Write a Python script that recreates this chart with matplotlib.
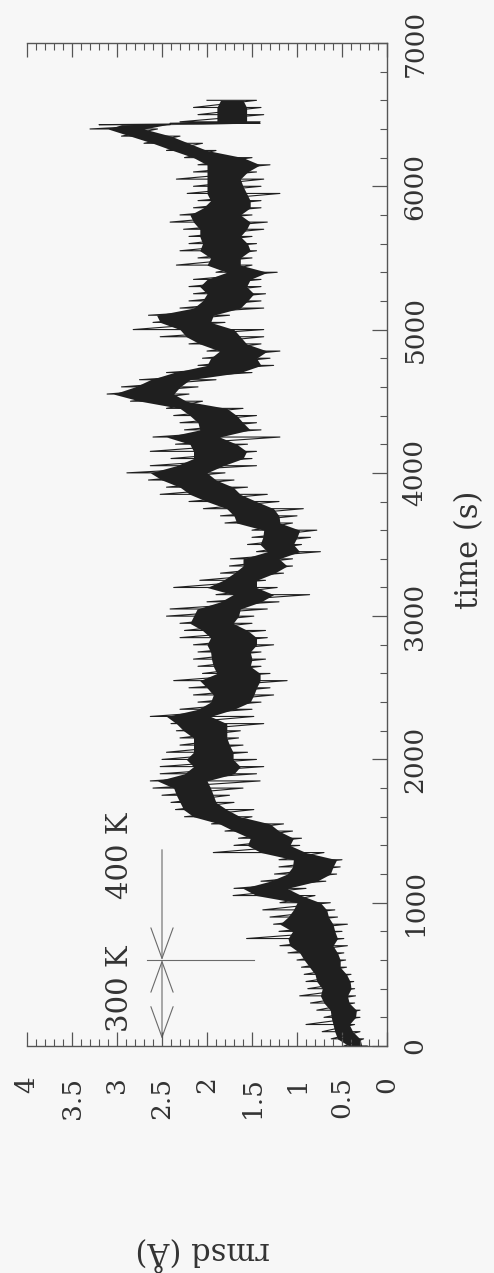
import numpy as np
import matplotlib
matplotlib.use("Agg")
import matplotlib.pyplot as plt
from matplotlib.ticker import MultipleLocator, FuncFormatter
from matplotlib.patches import FancyArrowPatch

# ---------------- data ----------------
time_s = [0, 50, 100, 150, 200, 250, 300, 350, 400, 450, 500, 550, 600, 650, 700,
          750, 800, 850, 900, 950, 1000, 1050, 1100, 1150, 1200, 1250, 1300, 1350,
          1400, 1450, 1500, 1550, 1600, 1650, 1700, 1750, 1800, 1850, 1900, 1950,
          2000, 2050, 2100, 2150, 2200, 2250, 2300, 2350, 2400, 2450, 2500, 2550,
          2600, 2650, 2700, 2750, 2800, 2850, 2900, 2950, 3000, 3050, 3100, 3150,
          3200, 3250, 3300, 3350, 3400, 3450, 3500, 3550, 3600, 3650, 3700, 3750,
          3800, 3850, 3900, 3950, 4000, 4050, 4100, 4150, 4200, 4250, 4300, 4350,
          4400, 4450, 4500, 4550, 4600, 4650, 4700, 4750, 4800, 4850, 4900, 4950,
          5000, 5050, 5100, 5150, 5200, 5250, 5300, 5350, 5400, 5450, 5500, 5550,
          5600, 5650, 5700, 5750, 5800, 5850, 5900, 5950, 6000, 6050, 6100, 6150,
          6200, 6250, 6300, 6350, 6400, 6430, 6440, 6450, 6500, 6550, 6600]

core_lo = [0.28, 0.30, 0.38, 0.42, 0.35, 0.34, 0.42, 0.44, 0.40, 0.41, 0.45, 0.52, 0.52, 0.55, 0.60,
           0.55, 0.58, 0.60, 0.65, 0.67, 0.74, 0.95, 1.11, 0.78, 0.63, 0.60, 0.56, 0.90,
           1.08, 1.04, 1.20, 1.30, 1.63, 1.78, 1.90, 1.93, 1.96, 2.00, 1.70, 1.63,
           1.71, 1.71, 1.75, 1.78, 1.78, 1.78, 1.96, 1.70, 1.52, 1.48, 1.45, 1.41,
           1.41, 1.52, 1.50, 1.52, 1.45, 1.45, 1.55, 1.71, 1.65, 1.63, 1.40, 1.26,
           1.45, 1.45, 1.25, 1.11, 1.20, 0.97, 1.04, 1.00, 0.97, 1.19, 1.20, 1.26,
           1.45, 1.63, 1.71, 1.90, 2.00, 1.82, 1.60, 1.56, 1.67, 1.86, 1.52, 1.60,
           1.67, 1.78, 2.23, 2.37, 2.30, 2.19, 1.63, 1.40, 1.45, 1.33, 1.56, 1.63,
           1.70, 1.96, 1.93, 1.63, 1.55, 1.48, 1.56, 1.52, 1.33, 1.63, 1.63, 1.52,
           1.55, 1.63, 1.56, 1.52, 1.63, 1.52, 1.52, 1.56, 1.60, 1.63, 1.55, 1.41,
           1.60, 2.00, 2.20, 2.40, 2.70, 2.45, 1.55, 1.56, 1.56, 1.56, 1.60]

core_hi = [0.42, 0.55, 0.58, 0.60, 0.62, 0.63, 0.70, 0.74, 0.72, 0.78, 0.80, 0.86, 0.92, 0.97, 1.08,
           1.10, 1.05, 1.19, 1.10, 1.04, 1.00, 1.45, 1.60, 1.30, 1.11, 1.05, 1.04, 1.40,
           1.55, 1.52, 1.70, 1.86, 2.15, 2.26, 2.30, 2.34, 2.37, 2.55, 2.25, 2.15,
           2.23, 2.15, 2.15, 2.15, 2.26, 2.34, 2.45, 2.10, 1.96, 1.93, 2.00, 2.08,
           1.89, 1.93, 1.95, 1.96, 2.00, 1.96, 2.05, 2.19, 2.15, 2.11, 1.85, 1.71,
           2.00, 1.82, 1.70, 1.60, 1.60, 1.33, 1.41, 1.38, 1.37, 1.67, 1.70, 1.78,
           2.00, 2.19, 2.30, 2.50, 2.63, 2.34, 2.15, 2.15, 2.19, 2.45, 2.08, 2.10,
           2.19, 2.30, 2.74, 3.04, 2.80, 2.63, 2.37, 2.00, 1.96, 1.86, 2.08, 2.23,
           2.30, 2.52, 2.56, 2.15, 2.05, 2.00, 2.08, 2.00, 1.78, 2.00, 1.96, 2.08,
           2.05, 2.08, 2.08, 2.15, 2.19, 2.04, 1.96, 2.00, 2.00, 2.00, 2.00, 2.00,
           2.15, 2.38, 2.60, 2.85, 3.10, 2.95, 1.85, 1.89, 1.89, 1.89, 1.85]

spike_lo = [0.22, 0.26, 0.30, 0.36, 0.30, 0.30, 0.36, 0.35, 0.36, 0.37, 0.40, 0.45, 0.46, 0.48, 0.44,
            0.48, 0.50, 0.44, 0.55, 0.58, 0.63, 0.80, 0.90, 0.68, 0.56, 0.52, 0.50, 0.70,
            0.97, 0.95, 1.05, 1.15, 1.50, 1.48, 1.70, 1.75, 1.60, 1.41, 1.45, 1.37,
            1.45, 1.55, 1.60, 1.65, 1.63, 1.37, 1.48, 1.50, 1.40, 1.26, 1.30, 1.11,
            1.30, 1.40, 1.35, 1.40, 1.26, 1.33, 1.35, 1.50, 1.48, 1.33, 1.20, 0.86,
            1.22, 1.35, 1.15, 1.05, 1.05, 0.74, 0.95, 0.85, 0.78, 1.05, 1.00, 0.93,
            1.20, 1.33, 1.55, 1.70, 1.80, 1.45, 1.50, 1.45, 1.55, 1.19, 1.40, 1.45,
            1.45, 1.60, 2.05, 2.20, 2.10, 1.90, 1.50, 1.26, 1.30, 1.19, 1.40, 1.37,
            1.37, 1.80, 1.75, 1.37, 1.40, 1.35, 1.40, 1.40, 1.22, 1.50, 1.50, 1.45,
            1.45, 1.50, 1.37, 1.33, 1.50, 1.40, 1.40, 1.19, 1.40, 1.37, 1.45, 1.30,
            1.50, 1.90, 2.05, 2.30, 2.55, 2.41, 1.41, 1.41, 1.37, 1.40, 1.45]

spike_hi = [0.48, 0.62, 0.72, 0.90, 0.70, 0.78, 0.85, 0.97, 0.88, 0.90, 0.92, 0.95, 1.00, 1.10, 1.19,
            1.56, 1.20, 1.26, 1.30, 1.38, 1.19, 1.71, 1.70, 1.40, 1.25, 1.20, 1.20, 1.93,
            1.70, 1.65, 1.80, 1.95, 2.25, 2.35, 2.40, 2.50, 2.60, 2.63, 2.52, 2.52,
            2.50, 2.45, 2.30, 2.30, 2.34, 2.40, 2.63, 2.30, 2.10, 2.15, 2.20, 2.37,
            2.05, 2.10, 2.15, 2.10, 2.15, 2.30, 2.25, 2.30, 2.45, 2.41, 2.00, 1.90,
            2.37, 2.08, 1.85, 1.75, 1.74, 1.45, 1.55, 1.50, 1.50, 1.80, 1.85, 2.04,
            2.20, 2.52, 2.45, 2.65, 2.89, 2.63, 2.40, 2.63, 2.35, 2.60, 2.25, 2.30,
            2.37, 2.45, 2.85, 3.11, 2.95, 2.75, 2.45, 2.10, 2.05, 2.00, 2.20, 2.52,
            2.82, 2.60, 2.65, 2.30, 2.20, 2.15, 2.20, 2.15, 1.90, 2.34, 2.10, 2.30,
            2.20, 2.20, 2.26, 2.41, 2.30, 2.15, 2.10, 2.22, 2.15, 2.34, 2.15, 2.10,
            2.25, 2.45, 2.70, 2.95, 3.30, 3.20, 2.41, 2.30, 2.10, 2.15, 2.00]

rmsd_ticks = [0, 0.5, 1, 1.5, 2, 2.5, 3, 3.5, 4]
time_ticks = [0, 1000, 2000, 3000, 4000, 5000, 6000, 7000]

# annotation values
temp_labels = ["300 K", "400 K"]
switch_time = 600
arrow_rmsd = 2.5
arrow_start = 50
arrow_end = 1370
marker_rmsd_from = 2.67
marker_rmsd_to = 1.48

# ---------------- figure ----------------
plt.rcParams["font.family"] = ["DejaVu Serif"]
W, H = 494, 1273
fig = plt.figure(figsize=(W / 100, H / 100), dpi=100, facecolor="#f7f7f7")
ax = fig.add_axes([27 / W, 1 - 1046 / H, (387 - 27) / W, (1046 - 43) / H])
ax.set_facecolor("#f7f7f7")

ink = "#1f1f1f"
t = np.asarray(time_s)
ax.fill_betweenx(t, core_lo, core_hi, color=ink, lw=0)
zig_x = np.column_stack([spike_lo, spike_hi]).ravel()
zig_t = np.repeat(t, 2)
ax.plot(zig_x, zig_t, color=ink, lw=0.8)

ax.set_xlim(4, 0)
ax.set_ylim(0, 7000)

# spines
ax.spines["left"].set_visible(False)
for s in ["right", "bottom", "top"]:
    ax.spines[s].set_color("#555555")
    ax.spines[s].set_linewidth(1.0)

ax.xaxis.set_major_locator(MultipleLocator(0.5))
ax.xaxis.set_minor_locator(MultipleLocator(0.1))
ax.set_xticks(rmsd_ticks)
ax.xaxis.set_major_formatter(FuncFormatter(lambda v, p: f"{v:g}"))
ax.yaxis.set_minor_locator(MultipleLocator(200))
ax.set_yticks(time_ticks)

ax.yaxis.tick_right()
ax.tick_params(axis="x", which="both", direction="in", top=True, bottom=True,
               labeltop=False, color="#555555")
ax.tick_params(axis="y", which="both", direction="in", left=False, right=True,
               labelleft=False, labelright=True, color="#555555")
ax.tick_params(axis="x", which="major", length=10, width=0.9, pad=22,
               labelsize=19, labelrotation=90, labelcolor="#333333")
ax.tick_params(axis="x", which="minor", length=5, width=0.8)
ax.tick_params(axis="y", which="major", length=11, width=0.9, pad=11,
               labelsize=19, labelrotation=90, labelcolor="#333333")
ax.tick_params(axis="y", which="minor", length=5, width=0.8)
for lab in ax.get_xticklabels():
    lab.set_va("top")
    lab.set_ha("center")
for lab in ax.get_yticklabels():
    lab.set_va("center")
    lab.set_ha("left")

# axis labels
fig.text(470 / W, 1 - 550 / H, "time (s)", rotation=90, ha="center", va="center",
         fontsize=22, color="#333333")
fig.text(203 / W, 1 - 1252 / H, "rmsd (Å)", rotation=180, ha="center", va="center",
         fontsize=22, color="#333333")

# temperature annotation
acol = "#6a6a6a"
head = "head_length=1.1,head_width=0.4"
ax.add_patch(FancyArrowPatch((arrow_rmsd, arrow_start), (arrow_rmsd, switch_time),
                             arrowstyle="<->," + head, mutation_scale=20,
                             color=acol, lw=0.8, shrinkA=0, shrinkB=0))
ax.add_patch(FancyArrowPatch((arrow_rmsd, arrow_end), (arrow_rmsd, switch_time),
                             arrowstyle="->," + head, mutation_scale=20,
                             color=acol, lw=0.8, shrinkA=0, shrinkB=0))
ax.plot([marker_rmsd_from, marker_rmsd_to], [switch_time, switch_time],
        color=acol, lw=0.8)
ax.text(2.97, 400, temp_labels[0], rotation=90, ha="center", va="center",
        fontsize=21, color="#333333")
ax.text(2.97, 1330, temp_labels[1], rotation=90, ha="center", va="center",
        fontsize=21, color="#333333")

fig.savefig("out.png", dpi=100, facecolor=fig.get_facecolor())
